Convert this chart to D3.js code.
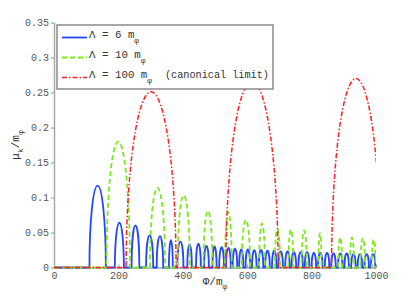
<!DOCTYPE html>
<html>
<head>
<meta charset="utf-8">
<script src="https://cdn.jsdelivr.net/npm/d3@7"></script>
<style>
  body { margin: 0; background: #fff; }
  text { font-family: "Liberation Mono", "DejaVu Sans Mono", monospace; }
</style>
</head>
<body>
<svg id="drawing_region"></svg>
<script>
// each arc: [start, end, peak]
const arcs6 = [
    [110, 161, 0.117], [189, 217, 0.064], [241, 265, 0.060], [286, 308, 0.046],
    [319, 339, 0.045], [357, 369, 0.039], [383, 402, 0.037], [414, 428, 0.033],
    [441, 456, 0.034], [466, 481, 0.031], [492, 505, 0.030], [513, 528, 0.029],
    [534, 549, 0.028], [555, 569, 0.027], [575, 588, 0.026], [595, 609, 0.026],
    [615, 629, 0.025], [636, 650, 0.025], [656, 670, 0.024], [677, 691, 0.024],
    [697, 711, 0.023], [718, 732, 0.023], [738, 752, 0.022], [759, 773, 0.022],
    [779, 793, 0.022], [800, 814, 0.021], [820, 834, 0.021], [841, 855, 0.021],
    [861, 875, 0.020], [882, 896, 0.020], [902, 916, 0.020], [923, 937, 0.019],
    [943, 957, 0.019], [964, 978, 0.019], [984, 998, 0.019]
];
const arcs10 = [
    [163, 236, 0.180], [298, 345, 0.114], [384, 422, 0.103], [464, 492, 0.081],
    [531, 552, 0.079], [583, 609, 0.068], [637, 655, 0.063], [686, 702, 0.055],
    [728, 743, 0.054], [769, 785, 0.053], [821, 831, 0.049], [883, 895, 0.043],
    [919, 932, 0.043], [952, 966, 0.042], [987, 999, 0.040]
];
const arcs100 = [
    [224, 379, 0.251], [534, 696, 0.266], [862, 1014, 0.270]
];

const xTicks = [0, 200, 400, 600, 800, 1000];
const yTicks = [0, 0.05, 0.1, 0.15, 0.2, 0.25, 0.3, 0.35];
const yTickLabels = ['0', '0.05', '0.1', '0.15', '0.2', '0.25', '0.3', '0.35'];
const legendNames = ['6', '10', '100'];

const series = [
    { arcs: arcs6,   color: '#2346ff', width: 1.8, dash: null },
    { arcs: arcs10,  color: '#7de81a', width: 1.8, dash: '5,3' },
    { arcs: arcs100, color: '#ff2121', width: 1.5, dash: '5,2,1.5,2' }
];

const config = {
    width: 415,
    height: 301,
    margin: { top: 22.5, right: 39, bottom: 33.5, left: 54 }
};

const svg = d3.select('#drawing_region')
    .attr('width', config.width)
    .attr('height', config.height);

const inner_width = config.width - config.margin.left - config.margin.right;
const inner_height = config.height - config.margin.top - config.margin.bottom;

const chart = svg.append('g')
    .attr('transform', `translate(${config.margin.left}, ${config.margin.top})`);

const xscale = d3.scaleLinear().domain([0, 1000]).range([0, inner_width]);
const yscale = d3.scaleLinear().domain([0, 0.35]).range([inner_height, 0]);

// clip so the last red arc stops at the right edge
chart.append('clipPath').attr('id', 'plotclip')
    .append('rect')
    .attr('x', 0).attr('y', -2)
    .attr('width', inner_width).attr('height', inner_height + 4);

// axes
const xaxis = d3.axisBottom(xscale)
    .tickValues(xTicks)
    .tickFormat(d3.format('d'))
    .tickSizeInner(-3).tickSizeOuter(0).tickPadding(4);
const yaxis = d3.axisLeft(yscale)
    .tickValues(yTicks)
    .tickFormat((d, i) => yTickLabels[i])
    .tickSizeInner(3).tickSizeOuter(0).tickPadding(2);

chart.append('g')
    .attr('transform', `translate(0, ${inner_height})`)
    .call(xaxis);
chart.append('g')
    .call(yaxis);

chart.selectAll('.domain').attr('stroke', '#a8a8a8').attr('stroke-width', 1.5);
chart.selectAll('.tick line').attr('stroke', '#909090');
chart.selectAll('.tick text')
    .attr('fill', '#555')
    .style('font-size', '10px')
    .style('font-family', '"Liberation Mono", monospace');

// curves: baseline at zero with half-ellipse lobes
function seriesPath(arcs) {
    const y0 = yscale(0);
    let p = `M${xscale(0)},${y0}`;
    arcs.forEach(a => {
        const x1 = xscale(a[0]), x2 = xscale(a[1]);
        const rx = (x2 - x1) / 2, ry = y0 - yscale(a[2]);
        p += `L${x1},${y0}A${rx},${ry} 0 0 1 ${x2},${y0}`;
    });
    p += `L${xscale(1000)},${y0}`;
    return p;
}

const lines = chart.append('g').attr('clip-path', 'url(#plotclip)');
lines.selectAll('path')
    .data(series)
    .enter()
    .append('path')
    .attr('d', d => seriesPath(d.arcs))
    .attr('fill', 'none')
    .attr('stroke', d => d.color)
    .attr('stroke-width', d => d.width)
    .attr('stroke-dasharray', d => d.dash)
    .attr('stroke-linejoin', 'round');

// legend
const legend = svg.append('g');
legend.append('rect')
    .attr('x', 57).attr('y', 25)
    .attr('width', 216).attr('height', 64)
    .attr('fill', '#fff')
    .attr('stroke', '#8a8a8a')
    .attr('stroke-width', 1.5);

const rows = legend.selectAll('.row')
    .data(series)
    .enter()
    .append('g')
    .attr('transform', (d, i) => `translate(0, ${37.5 + i * 20})`);

rows.append('line')
    .attr('x1', 62).attr('x2', 87)
    .attr('stroke', d => d.color)
    .attr('stroke-width', d => d.width)
    .attr('stroke-dasharray', d => d.dash);

const ltext = rows.append('text')
    .attr('x', 89)
    .attr('fill', '#333')
    .style('font-size', '10.8px');
ltext.append('tspan').text((d, i) => `\u039B = ${legendNames[i]} m`);
ltext.append('tspan')
    .attr('dy', 5).style('font-size', '8px')
    .text('\u03C6');
ltext.filter((d, i) => i === 2)
    .append('tspan')
    .attr('x', 165).attr('dy', -5)
    .style('font-size', '10.2px')
    .text('(canonical limit)');

// axis labels
const xlabel = svg.append('text')
    .attr('x', 215).attr('y', 285)
    .attr('text-anchor', 'middle')
    .attr('fill', '#333')
    .style('font-size', '11px');
xlabel.append('tspan').text('\u03A6/m');
xlabel.append('tspan').attr('dy', 4).style('font-size', '8px').text('\u03C6');

const ylabel = svg.append('text')
    .attr('transform', 'translate(19, 145) rotate(-90)')
    .attr('text-anchor', 'middle')
    .attr('fill', '#333')
    .style('font-size', '11px');
ylabel.append('tspan').text('\u03BC');
ylabel.append('tspan').attr('dy', 4).style('font-size', '8px').text('k');
ylabel.append('tspan').attr('dy', -4).text('/m');
ylabel.append('tspan').attr('dy', 4).style('font-size', '8px').text('\u03C6');
</script>
</body>
</html>
